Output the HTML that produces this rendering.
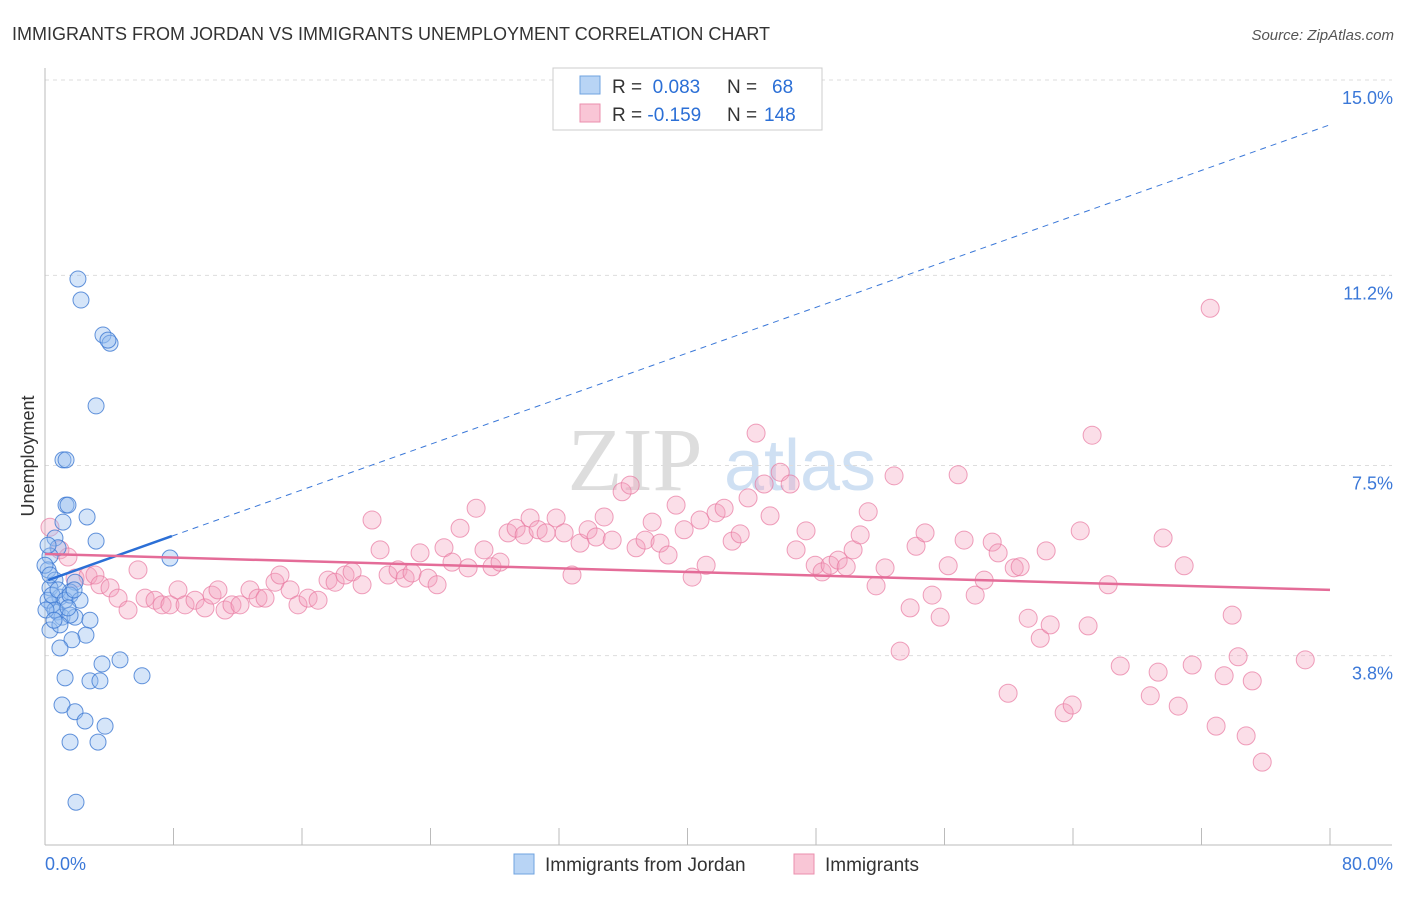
<!DOCTYPE html>
<html><head><meta charset="utf-8"><style>
body{margin:0;background:#fff;font-family:"Liberation Sans",sans-serif;}
</style></head><body>
<svg width="1406" height="892" xmlns="http://www.w3.org/2000/svg" id="chart">
<text x="12" y="40" font-size="18" fill="#333">IMMIGRANTS FROM JORDAN VS IMMIGRANTS UNEMPLOYMENT CORRELATION CHART</text>
<text x="1394" y="40" font-size="15" fill="#555" text-anchor="end" font-style="italic">Source: ZipAtlas.com</text>
<text x="34" y="456" font-size="18" fill="#333" text-anchor="middle" transform="rotate(-90 34 456)">Unemployment</text>
<g><text x="635" y="490" font-size="90" fill="#ddd" font-family="Liberation Serif" text-anchor="middle">ZIP</text><text x="800" y="490" font-size="72" fill="#cfe0f3" text-anchor="middle">atlas</text></g>
<g id="grid"></g><g id="axes"></g><g id="pts"></g><g id="lines"></g>
<g>
<rect x="553" y="68" width="269" height="62" fill="#fff" stroke="#ccc"/>
<rect x="580" y="76" width="20" height="18" fill="#b8d4f5" stroke="#6fa3e0"/>
<rect x="580" y="104" width="20" height="18" fill="#f9c6d6" stroke="#eb8fae"/>
<text x="612" y="93" font-size="19" fill="#333">R = <tspan fill="#2b6fd6">&#160;0.083</tspan><tspan x="727">N = </tspan><tspan x="772" fill="#2b6fd6">68</tspan></text>
<text x="612" y="121" font-size="19" fill="#333">R = <tspan fill="#2b6fd6">-0.159</tspan><tspan x="727">N = </tspan><tspan x="764" fill="#2b6fd6">148</tspan></text>
</g>
<g>
<rect x="514" y="854" width="20" height="20" fill="#b8d4f5" stroke="#6fa3e0"/>
<text x="545" y="871" font-size="19" fill="#333">Immigrants from Jordan</text>
<rect x="794" y="854" width="20" height="20" fill="#f9c6d6" stroke="#eb8fae"/>
<text x="825" y="871" font-size="19" fill="#333">Immigrants</text>
</g>
</svg>
<script>
const yTicks=[15.0,11.2,7.5,3.8];
const yTickLabels=["15.0%","11.2%","7.5%","3.8%"];
const xTickLabels=["0.0%","80.0%"];
const blueX=[2.05,2.24,3.61,4.05,3.92,3.18,1.12,1.31,1.31,1.43,1.12,2.62,3.18,0.62,0.81,0.31,0.19,7.78,0.62,0.31,1.87,0.93,1.56,0.44,0.75,1.06,1.87,2.80,1.56,0.31,2.55,1.68,0.93,3.55,4.67,6.04,1.25,2.80,3.42,1.06,1.87,2.49,3.74,1.56,3.30,1.93,0.19,0.44,0.81,1.25,1.56,0.0,0.19,0.31,0.62,0.93,2.18,0.06,0.56,1.43,1.81];
const blueY=[11.46,11.05,10.37,10.21,10.27,8.99,7.94,7.94,7.06,7.06,6.73,6.83,6.36,6.42,6.23,6.07,5.80,6.03,5.60,5.45,5.56,5.27,5.37,5.12,4.98,4.88,4.88,4.82,4.92,4.63,4.53,4.44,4.28,3.97,4.05,3.74,3.70,3.64,3.64,3.17,3.04,2.86,2.76,2.45,2.45,1.28,5.21,5.31,5.41,5.21,5.31,5.89,6.28,5.70,5.02,4.73,5.21,5.02,4.82,5.06,5.41];
const pinkX=[0.31,0.93,1.43,1.87,2.68,3.11,3.42,4.05,4.55,5.17,5.79,6.23,6.85,7.29,7.78,8.28,8.72,9.34,9.96,10.40,10.77,11.21,11.64,12.14,12.76,13.26,13.70,14.32,14.63,15.26,15.75,16.38,17.00,17.62,18.06,18.68,19.12,19.74,20.36,20.86,21.36,21.98,22.42,22.85,23.35,23.85,24.41,24.84,25.34,25.84,26.34,26.84,27.33,27.83,28.33,28.83,29.33,29.83,30.20,30.70,31.20,31.82,32.32,32.81,33.31,33.81,34.31,34.81,35.31,35.93,36.43,36.80,37.36,37.80,38.29,38.79,39.29,39.79,40.29,40.78,41.16,41.78,42.28,42.78,43.28,43.77,44.27,44.77,45.14,45.77,46.39,46.76,47.38,47.95,48.38,48.88,49.38,49.88,50.31,50.75,51.25,51.74,52.30,52.86,53.24,53.86,54.23,54.79,55.23,55.73,56.23,56.85,57.22,57.91,58.47,58.97,59.34,59.96,60.34,60.71,61.21,61.96,62.33,62.58,63.45,63.95,64.45,64.94,65.19,66.19,66.94,68.81,69.30,69.61,70.55,70.92,71.42,72.54,72.91,73.41,73.91,74.28,74.78,75.16,75.78,78.46];
const pinkY=[6.63,6.19,6.05,5.64,5.68,5.70,5.51,5.45,5.25,5.02,5.80,5.25,5.21,5.12,5.12,5.41,5.12,5.21,5.06,5.31,5.41,5.02,5.12,5.12,5.41,5.25,5.25,5.56,5.70,5.41,5.12,5.25,5.21,5.60,5.56,5.70,5.76,5.51,6.77,6.19,5.70,5.80,5.64,5.74,6.13,5.64,5.51,6.23,5.95,6.61,5.84,7.00,6.19,5.86,5.95,6.52,6.61,6.48,6.81,6.58,6.52,6.81,6.52,5.70,6.32,6.58,6.44,6.83,6.38,7.32,7.45,6.23,6.38,6.73,6.32,6.09,7.06,6.58,5.66,6.77,5.89,6.91,7.00,6.36,6.50,7.20,8.46,7.47,6.85,7.70,7.47,6.19,6.56,5.89,5.76,5.89,5.99,5.86,6.19,6.48,6.93,5.49,5.84,7.63,4.22,5.06,6.26,6.52,5.31,4.88,5.88,7.65,6.38,5.31,5.60,6.34,6.13,3.40,5.84,5.86,4.86,4.47,6.17,4.73,3.02,3.17,6.56,4.71,8.42,5.51,3.93,3.35,3.81,6.42,3.15,5.88,3.95,10.89,2.76,3.74,4.92,4.11,2.57,3.64,2.06,4.05];
const blueTrend=[5.58,0.111];
const pinkTrend=[6.11,-0.00875];
const NS="http://www.w3.org/2000/svg";
const X0=45,X1=1330;
const xs=v=>X0+(v/80)*(X1-X0);
const ys=v=>97+(15-v)*51.4;
function mk(t,a,p){const e=document.createElementNS(NS,t);for(const k in a)e.setAttribute(k,a[k]);document.getElementById(p).appendChild(e);return e;}
yTicks.forEach((v,i)=>{
 const g=mk('line',{x1:45,x2:1392,y1:ys(v)-17,y2:ys(v)-17,stroke:'#ddd','stroke-dasharray':'4,4'},'grid');
 
 
 const t=mk('text',{x:1393,y:ys(v)+7,'font-size':18,fill:'#3b78d8','text-anchor':'end'},'axes');
 t.textContent=yTickLabels[i];
 
 
});
const ax=mk('line',{x1:45,x2:45,y1:68,y2:845,stroke:'#bbb'},'axes');


const bx=mk('line',{x1:45,x2:1392,y1:845,y2:845,stroke:'#bbb'},'axes');


for(let k=1;k<=10;k++){const tk=mk('line',{x1:xs(k*8),x2:xs(k*8),y1:828,y2:845,stroke:'#bbb'},'axes');
 
 }
[[0,45,'start'],[80,1393,'end']].forEach((d,i)=>{const t=mk('text',{x:d[1],y:870,'font-size':18,fill:'#3b78d8','text-anchor':d[2]},'axes');t.textContent=xTickLabels[i];
 
 });
const n=Math.min(pinkX.length,pinkY.length);
for(let i=0;i<n;i++){const c=mk('circle',{cx:xs(pinkX[i]),cy:ys(pinkY[i]),r:9,fill:'rgba(244,160,190,0.35)',stroke:'rgba(232,120,160,0.7)','stroke-width':1},'pts');
 
 }
const m=Math.min(blueX.length,blueY.length);
for(let i=0;i<m;i++){const c=mk('circle',{cx:xs(blueX[i]),cy:ys(blueY[i]),r:8,fill:'rgba(150,190,240,0.4)',stroke:'rgba(60,120,210,0.8)','stroke-width':1},'pts');
 
 }
const bt=x=>blueTrend[0]+blueTrend[1]*x, pt=x=>pinkTrend[0]+pinkTrend[1]*x;
const l1=mk('line',{x1:xs(7.9),y1:ys(bt(7.9)),x2:xs(80),y2:ys(bt(80)),stroke:'#3b78d8','stroke-dasharray':'6,5','stroke-width':1},'lines');


const l2=mk('line',{x1:xs(0.2),y1:ys(bt(0.2)),x2:xs(7.9),y2:ys(bt(7.9)),stroke:'#2b6fd6','stroke-width':2.5},'lines');


const l3=mk('line',{x1:xs(0),y1:ys(pt(0)),x2:xs(80),y2:ys(pt(80)),stroke:'#e46c98','stroke-width':2.5},'lines');


</script>
</body></html>
